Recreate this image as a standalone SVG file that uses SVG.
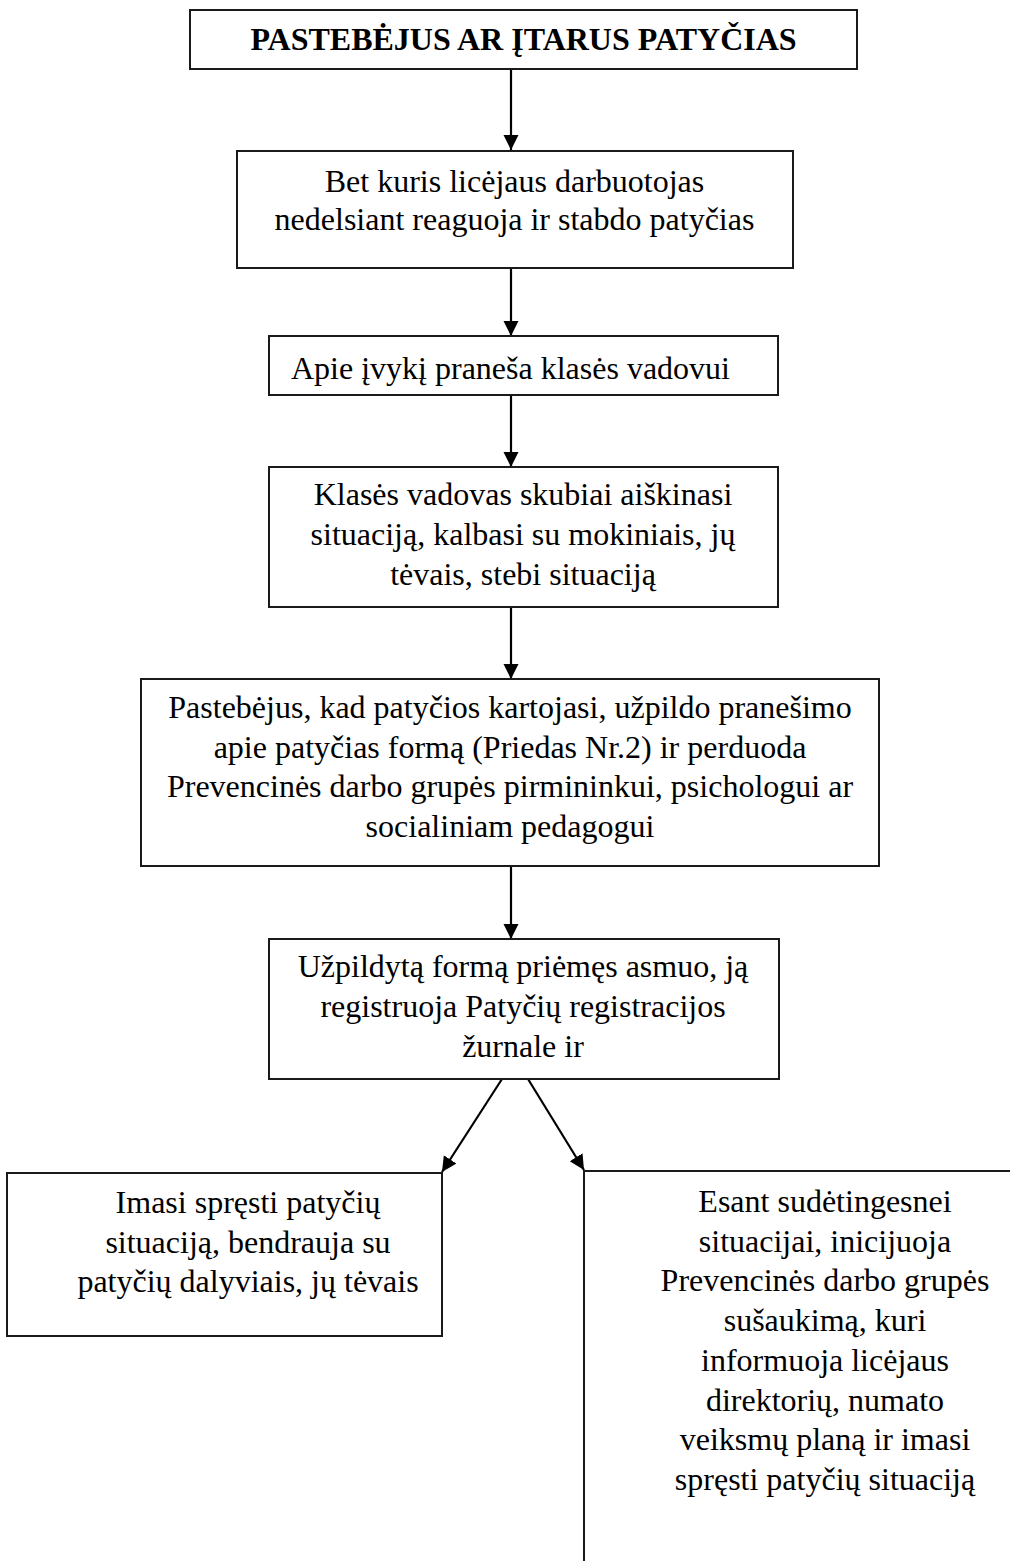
<svg xmlns="http://www.w3.org/2000/svg" width="1010" height="1561" viewBox="0 0 1010 1561">
<style>
.box{fill:#fff;stroke:#1a1a1a;stroke-width:2}
.t{font-family:"Liberation Serif","Times New Roman",serif;font-size:32px;fill:#000;text-anchor:middle}
.b{font-weight:bold}
.c{stroke:#000;stroke-width:2.2;fill:none;marker-end:url(#ah)}
</style>
<defs>
<marker id="ah" markerUnits="userSpaceOnUse" markerWidth="16" markerHeight="16" refX="15" refY="7.5" orient="auto">
<path d="M0,0 L15,7.5 L0,15 Z" fill="#000"/>
</marker>
</defs>
<rect width="1010" height="1561" fill="#fff"/>
<g id="connectors">
<line class="c" x1="511" y1="69" x2="511" y2="150"/>
<line class="c" x1="511" y1="268" x2="511" y2="336"/>
<line class="c" x1="511" y1="395" x2="511" y2="467"/>
<line class="c" x1="511" y1="607" x2="511" y2="679"/>
<line class="c" x1="511" y1="866" x2="511" y2="939"/>
<line class="c" x1="502" y1="1079" x2="442" y2="1172"/>
<line class="c" x1="528" y1="1079" x2="584" y2="1170"/>
</g>
<g id="n1">
<rect class="box" x="190" y="10" width="667" height="59"/>
<text class="t b" x="523.5" y="50">PASTEBĖJUS AR ĮTARUS PATYČIAS</text>
</g>
<g id="n2">
<rect class="box" x="237" y="151" width="556" height="117"/>
<text class="t" x="514.5" y="192">Bet kuris licėjaus darbuotojas</text>
<text class="t" x="514.5" y="230">nedelsiant reaguoja ir stabdo patyčias</text>
</g>
<g id="n3">
<rect class="box" x="269" y="336" width="509" height="59"/>
<text class="t" x="291" y="379" style="text-anchor:start">Apie įvykį praneša klasės vadovui</text>
</g>
<g id="n4">
<rect class="box" x="269" y="467" width="509" height="140"/>
<text class="t" x="523" y="505">Klasės vadovas skubiai aiškinasi</text>
<text class="t" x="523" y="545">situaciją, kalbasi su mokiniais, jų</text>
<text class="t" x="523" y="585">tėvais, stebi situaciją</text>
</g>
<g id="n5">
<rect class="box" x="141" y="679" width="738" height="187"/>
<text class="t" x="510" y="718">Pastebėjus, kad patyčios kartojasi, užpildo pranešimo</text>
<text class="t" x="510" y="757.5">apie patyčias formą (Priedas Nr.2) ir perduoda</text>
<text class="t" x="510" y="797">Prevencinės darbo grupės pirmininkui, psichologui ar</text>
<text class="t" x="510" y="836.5">socialiniam pedagogui</text>
</g>
<g id="n6">
<rect class="box" x="269" y="939" width="510" height="140"/>
<text class="t" x="523" y="977">Užpildytą formą priėmęs asmuo, ją</text>
<text class="t" x="523" y="1017">registruoja Patyčių registracijos</text>
<text class="t" x="523" y="1057">žurnale ir</text>
</g>
<g id="n7">
<rect class="box" x="7" y="1173" width="435" height="163"/>
<text class="t" x="248" y="1213">Imasi spręsti patyčių</text>
<text class="t" x="248" y="1253">situaciją, bendrauja su</text>
<text class="t" x="248" y="1292">patyčių dalyviais, jų tėvais</text>
</g>
<g id="n8">
<rect class="box" x="584" y="1171" width="482" height="450"/>
<text class="t" x="825" y="1212">Esant sudėtingesnei</text>
<text class="t" x="825" y="1251.7">situacijai, inicijuoja</text>
<text class="t" x="825" y="1291.4">Prevencinės darbo grupės</text>
<text class="t" x="825" y="1331">sušaukimą, kuri</text>
<text class="t" x="825" y="1370.8">informuoja licėjaus</text>
<text class="t" x="825" y="1410.5">direktorių, numato</text>
<text class="t" x="825" y="1450">veiksmų planą ir imasi</text>
<text class="t" x="825" y="1490">spręsti patyčių situaciją</text>
</g>
</svg>
